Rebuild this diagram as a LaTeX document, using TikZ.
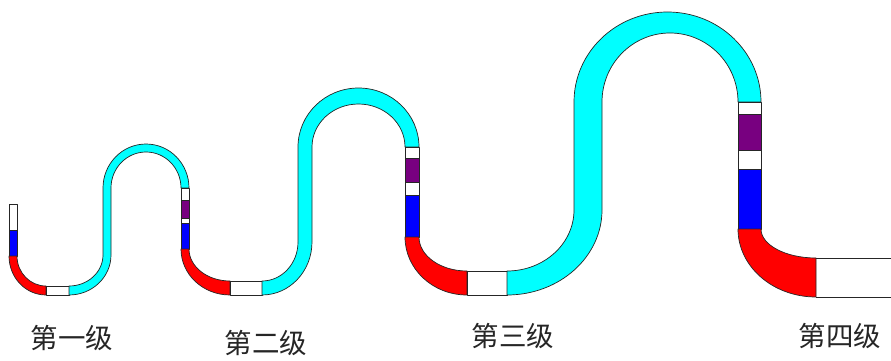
\documentclass[tikz,border=0pt]{standalone}
\usepackage{fontspec}
\newfontfamily\cjk{Noto Sans CJK SC}
\definecolor{pipecyan}{RGB}{0,255,255}
\definecolor{pipered}{RGB}{255,0,0}
\definecolor{pipeblue}{RGB}{0,0,255}
\definecolor{pipepurple}{RGB}{120,0,128}
\begin{document}
\begin{tikzpicture}[x=1pt,y=1pt,yscale=-1,
  seg/.style={draw=black!85,line width=0.7pt,line join=round},
  wseg/.style={seg,fill=white},
  cseg/.style={seg,fill=pipecyan},
  rseg/.style={seg,fill=pipered},
  bseg/.style={seg,fill=pipeblue},
  pseg/.style={seg,fill=pipepurple},
  stagelabel/.style={font=\cjk\fontsize{27.5}{27.5}\selectfont,text=black!85,inner sep=0pt}]
\useasboundingbox (0,0) rectangle (891,361);

% stage 1: vertical inlet, bend, straight, rising S
\filldraw[wseg] (9,204) rectangle (17,230);
\filldraw[bseg] (9,230) rectangle (17,256);
\filldraw[rseg] (9,256) arc[start angle=180,end angle=90,x radius=37,y radius=39]
  -- (46,286) arc[start angle=90,end angle=180,x radius=29,y radius=30] -- cycle;
\filldraw[wseg] (46,286) rectangle (69,295);
\filldraw[cseg] (69,295) arc[start angle=90,end angle=0,x radius=42,y radius=40]
  -- (111,188) arc[start angle=180,end angle=360,x radius=35,y radius=36]
  -- (189,188) arc[start angle=0,end angle=-180,x radius=43,y radius=44]
  -- (103,255) arc[start angle=0,end angle=90,x radius=34,y radius=31] -- cycle;

% stage 2
\filldraw[wseg] (181,188) rectangle (189,200);
\filldraw[pseg] (181,200) rectangle (189,218);
\filldraw[wseg] (181,218) rectangle (189,223);
\filldraw[bseg] (181,223) rectangle (189,249);
\filldraw[rseg] (181,249) arc[start angle=180,end angle=90,x radius=49,y radius=46]
  -- (230,281) arc[start angle=90,end angle=180,x radius=41,y radius=32] -- cycle;
\filldraw[wseg] (230,281) rectangle (262,295);
\filldraw[cseg] (262,295) arc[start angle=90,end angle=0,x radius=50,y radius=53]
  -- (312,147) arc[start angle=180,end angle=360,x radius=46.5,y radius=43]
  -- (419,147) arc[start angle=0,end angle=-180,x radius=60.5,y radius=59]
  -- (298,242) arc[start angle=0,end angle=90,x radius=36,y radius=39] -- cycle;

% stage 3
\filldraw[wseg] (405,147) rectangle (419,158);
\filldraw[pseg] (405,158) rectangle (419,182);
\filldraw[wseg] (405,182) rectangle (419,195);
\filldraw[bseg] (405,195) rectangle (419,237);
\filldraw[rseg] (405,237) arc[start angle=180,end angle=90,x radius=62,y radius=58]
  -- (467,271) arc[start angle=90,end angle=180,x radius=48,y radius=34] -- cycle;
\filldraw[wseg] (467,271) rectangle (507,295);
\filldraw[cseg] (507,295) arc[start angle=90,end angle=0,x radius=95,y radius=85]
  -- (602,102) arc[start angle=180,end angle=360,x radius=68,y radius=69]
  -- (761,102) arc[start angle=0,end angle=-180,x radius=93.5,y radius=90]
  -- (574,210) arc[start angle=0,end angle=90,x radius=67,y radius=61] -- cycle;

% stage 4: outlet runs off the right edge
\filldraw[wseg] (738,102) rectangle (761,114);
\filldraw[pseg] (738,114) rectangle (761,150);
\filldraw[wseg] (738,150) rectangle (761,169);
\filldraw[bseg] (738,169) rectangle (761,229);
\filldraw[rseg] (738,229) arc[start angle=180,end angle=90,x radius=78,y radius=68]
  -- (816,258) arc[start angle=90,end angle=180,x radius=55,y radius=29] -- cycle;
\draw[seg] (816,258) -- (891,258) (816,297) -- (891,297);

% stage labels
\node[stagelabel] (s1) at (72,338) {第一级};
\node[stagelabel] (s2) at (266,343) {第二级};
\node[stagelabel] (s3) at (513,336) {第三级};
\node[stagelabel] (s4) at (840,336) {第四级};
\end{tikzpicture}
\end{document}
